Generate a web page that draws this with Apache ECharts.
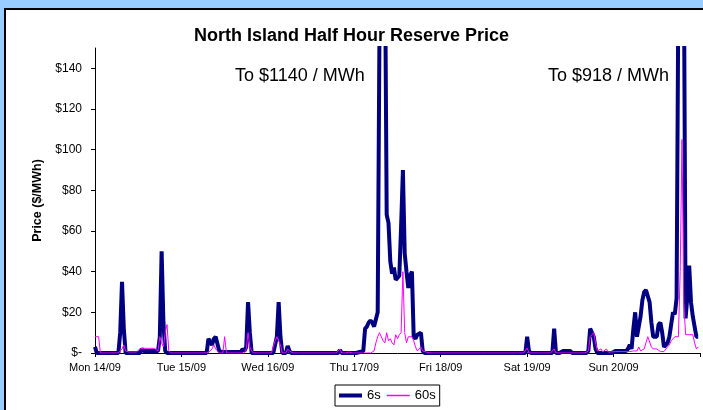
<!DOCTYPE html>
<html>
<head>
<meta charset="utf-8">
<script src="https://cdn.jsdelivr.net/npm/echarts@6/dist/echarts.min.js"></script>
<style>
  html, body { margin: 0; padding: 0; }
  body { width: 703px; height: 410px; background: #99ccff; position: relative; overflow: hidden; }
  #frame { position: absolute; left: 4px; top: 8px; width: 720px; height: 420px; background: #fff; border: 2px solid #000; }
  #main { position: absolute; left: 0; top: 0; width: 703px; height: 410px; }
</style>
</head>
<body>
<div id="frame"></div>
<div id="main"></div>
<script>
// day labels on the x axis
const days = ['Mon 14/09', 'Tue 15/09', 'Wed 16/09', 'Thu 17/09', 'Fri 18/09', 'Sat 19/09', 'Sun 20/09', 'Mon 21/09']

// 6s reserve price, $/MWh, 48 half hours per day
const mon6 = [3,0,0,0,0,0,0,0,0,0, 0,0,0,0,10,35,12,0,0,0, 0,0,0,0,0,0,2,1,1,1, 1,1,1,1,1,1,8,50,15,1, 0,0,0,0,0,0,0,0]
const tue6 = [0,0,0,0,0,0,0,0,0,0, 0,0,0,0,0,7,7,4,7,8, 8,1,0.5,0.5,0.5,0.5,0.5,0.5,0.5,0.5, 0.5,0.5,0.5,0.5,2,1,3,25,10,0, 0,0,0,0,0,0,0,0]
const wed6 = [0,0,0,0,0,8,25,8,0,0, 0,3.5,1,0,0,0,0,0,0,0, 0,0,0,0,0,0,0,0,0,0, 0,0,0,0,0,0,0,0,0,0, 1.5,0,0,0,0,0,0,0]
const thu6 = [0,0,0.5,0.5,0.5,1,12,13,15,16, 15,13,13,20,160,1140,700,200,68,64, 45,39,42,36,36,38,62,90,49,40, 32,38,40,8,7,9,9,10,1,0, 0,0,0,0,0,0,0,0]
const fri6 = [0,0,0,0,0,0,0,0,0,0, 0,0,0,0,0,0,0,0,0,0, 0,0,0,0,0,0,0,0,0,0, 0,0,0,0,0,0,0,0,0,0, 0,0,0,0,0,0,0,0]
const sat6 = [8,1,0,0,0,0,0,0,0,0, 0,0,0,0,0,12,0,0,0,0, 1,1,1,1,1,0,0,0,0,0, 0,0,0,0,1,12,12,8,2,0, 0,0,0,0,0,0,0,0]
const sun6 = [0,1,1,1,1,1,1,1,2,4, 2,12,20,8,8,18,26,30,31,31, 25,15,8,8,8,14,15,10,3,3, 5,8,14,20,19,27,180,918,700,200, 17,28,43,25,18,18,8,8]

// 60s reserve price
const mon60 = [8,8,8,0,0,0,0,0,0,0, 0,0,0,0,0,2,4,1,0.5,0.5, 0.5,0.5,0.5,0.5,0.5,2,2.3,2.3,2.3,2.3, 2.3,2.3,2.3,2.3,2.3,1,8,5,3,10, 14,1,0,0,0,0,0,0]
const tue60 = [0,0,0,0,0,0,0,0,0,0, 0,0,0,0,0,0,1,2,4,2, 1,0,0,0,8,0,0,0,0,0, 0,0,0,0,0,0,2,10,3,1, 0,0,0,0,0,0,0,0]
const wed60 = [0,0,0,0,6,8,8,4,0,0, 0,2,1,1,0,0,0,0,0,0, 0,0,0,0,0,0,0,0,0,0, 0,0,0,0,0,0,0,0,0,0, 2,0,0,0,0,0.5,0,0]
const thu60 = [0,0,0,0,0,0,0,0,0,0, 0,1,5,8,10,10,6,5,10,6, 7,5,4,9,7,9,10,40,10,5, 8,8,8,6,3,1,2,3,1,1, 0.5,0.5,0,0,0,0,0,0]
const fri60 = [0,0,0,0,0,0,0,0,0,0, 0,0,0,0,0,0,0,0,0,0, 0,0,0,0,0,0,0,0,0,0, 0,0,0,0,0,0,0,0,0,0, 0,0,0,0,0,0,0,0]
const sat60 = [2.5,0,0,0,0,0,0,0,0,0, 0,0,0,0,0,2,0,0,0,0, 0,0,0,0,0,0,0,0,0,0, 0,0,0,0,1,8,9,10,5,1, 0.5,2,0.5,0,2,0.5,1,0.5]
const sun60 = [0.5,0.7,0.7,0.7,0.7,0.7,0.7,0.7,0.7,0.7, 0.7,1,1,1,3,1,1,2,5,8, 8,3,2,2,2,1.5,0.7,0.7,0.7,0.7, 3,4,6,7,8,8,8,40,105,25, 9,9,9,9,9,5,2,3]

const yTicks = [0, 20, 40, 60, 80, 100, 120, 140]

const s6 = [].concat(mon6, tue6, wed6, thu6, fri6, sat6, sun6)
const s60 = [].concat(mon60, tue60, wed60, thu60, fri60, sat60, sun60)

// one category per half hour, plus the closing midnight
let cats = []
for (let d = 0; d < 7; d++) {
  for (let h = 0; h < 48; h++) {
    let hh = String(Math.floor(h / 2)).padStart(2, '0')
    cats.push(days[d] + ' ' + hh + (h % 2 ? ':30' : ':00'))
  }
}
cats.push(days[7] + ' 00:00')

const font = '"Liberation Sans", Arial, sans-serif'

let chart = echarts.init(document.getElementById('main'))
chart.setOption({
  backgroundColor: 'transparent',
  animation: false,
  textStyle: { fontFamily: font, color: '#000' },
  title: {
    text: 'North Island Half Hour Reserve Price',
    left: 'center',
    top: 22,
    textStyle: { fontSize: 18, fontWeight: 'bold', color: '#000', fontFamily: font }
  },
  graphic: [
    { type: 'text', left: 235, top: 67, style: { text: 'To $1140 / MWh', font: '18px ' + font, fill: '#000' } },
    { type: 'text', left: 548, top: 67, style: { text: 'To $918 / MWh', font: '18px ' + font, fill: '#000' } }
  ],
  legend: {
    left: 335,
    top: 385,
    itemWidth: 23,
    itemHeight: 10,
    itemGap: 6,
    padding: [4, 4],
    borderColor: '#000',
    borderWidth: 1,
    textStyle: { fontSize: 13, color: '#000', fontFamily: font },
    data: [
      { name: '6s', icon: 'path://M0,0 L23,0 L23,4 L0,4 Z', itemStyle: { color: '#000080' } },
      { name: '60s', icon: 'path://M0,0 L23,0 L23,1.5 L0,1.5 Z', itemStyle: { color: '#ff00ff' } }
    ]
  },
  grid: { left: 95, right: 2, top: 48, bottom: 57 },
  xAxis: {
    type: 'category',
    data: cats,
    boundaryGap: false,
    axisLine: { lineStyle: { color: '#000', width: 1 } },
    axisTick: { interval: 47, length: 4, lineStyle: { color: '#000' } },
    axisLabel: {
      interval: 47,
      margin: 9,
      fontSize: 11,
      color: '#000',
      fontFamily: font,
      formatter: (v, i) => i >= 336 ? '' : v.slice(0, 9)
    },
    splitLine: { show: false }
  },
  yAxis: {
    type: 'value',
    min: 0,
    max: 150,
    interval: 20,
    name: 'Price ($/MWh)',
    nameLocation: 'middle',
    nameGap: 50,
    nameRotate: 90,
    nameTextStyle: { fontSize: 12.5, fontWeight: 'bold', color: '#000', fontFamily: font },
    axisLine: { show: true, lineStyle: { color: '#000', width: 1 } },
    axisTick: { show: true, length: 4, customValues: yTicks, lineStyle: { color: '#000' } },
    axisLabel: {
      customValues: yTicks,
      fontSize: 12,
      color: '#000',
      margin: 13,
      fontFamily: font,
      formatter: v => v === 0 ? '$-' : '$' + v
    },
    splitLine: { show: false }
  },
  series: [
    {
      name: '6s',
      type: 'line',
      data: s6,
      symbol: 'none',
      showSymbol: false,
      color: '#000080',
      lineStyle: { color: '#000080', width: 4 }
    },
    {
      name: '60s',
      type: 'line',
      data: s60,
      symbol: 'none',
      showSymbol: false,
      color: '#ff00ff',
      lineStyle: { color: '#ff00ff', width: 1 }
    }
  ]
})
</script>
</body>
</html>
